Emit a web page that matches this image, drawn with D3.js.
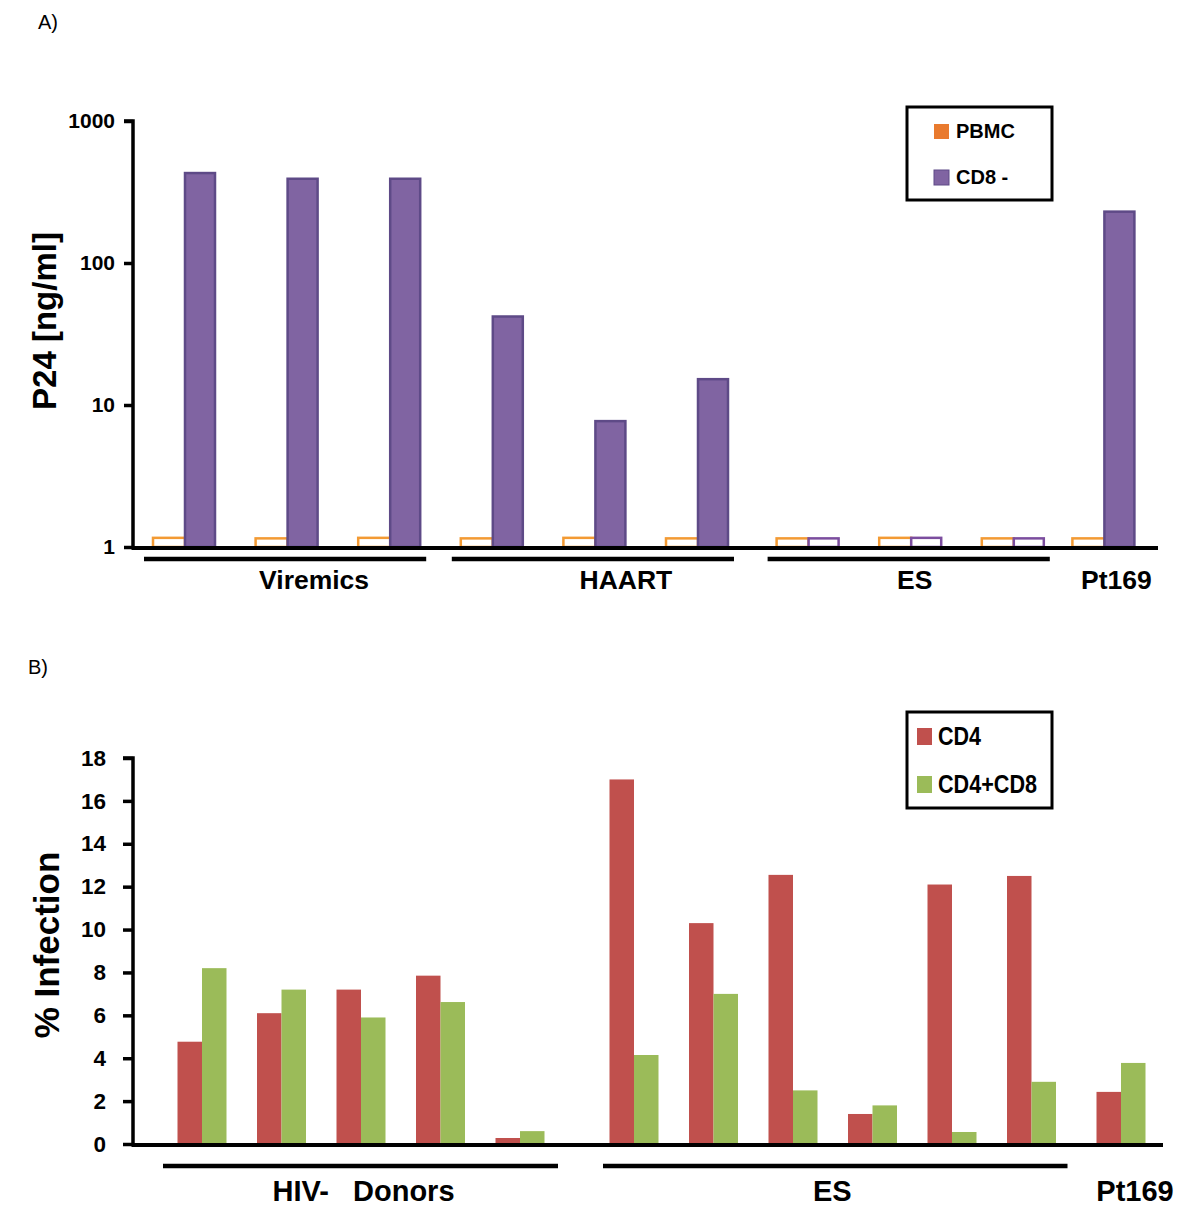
<!DOCTYPE html>
<html>
<head>
<meta charset="utf-8">
<script src="https://cdn.jsdelivr.net/npm/d3@7"></script>
<style>
  html, body { margin: 0; padding: 0; background: #fff; }
  svg { display: block; font-family: "Liberation Sans", Arial, sans-serif; }
</style>
</head>
<body>
<svg id="chart" width="1200" height="1225"></svg>
<script>
// ---------------- DATA ----------------
// Panel A: P24 [ng/ml] (log scale)
const aCategories = ["V1", "V2", "V3", "H1", "H2", "H3", "E1", "E2", "E3", "Pt169"];
const aGroups     = ["Viremics", "Viremics", "Viremics", "HAART", "HAART", "HAART", "ES", "ES", "ES", "Pt169"];
const aPBMC       = [1.16, 1.15, 1.16, 1.15, 1.16, 1.15, 1.15, 1.16, 1.15, 1.15];
const aCD8neg     = [430, 392, 392, 42, 7.7, 15.2, 1.15, 1.16, 1.15, 230];
const aGroupNames = ["Viremics", "HAART", "ES", "Pt169"];
const aTicks      = [1, 10, 100, 1000];
const aSeries     = ["PBMC", "CD8 -"];

// Panel B: % Infection
const bCategories = ["D1", "D2", "D3", "D4", "D5", "E1", "E2", "E3", "E4", "E5", "E6", "Pt169"];
const bGroups     = ["HIV-   Donors", "HIV-   Donors", "HIV-   Donors", "HIV-   Donors", "HIV-   Donors",
                     "ES", "ES", "ES", "ES", "ES", "ES", "Pt169"];
const bCD4        = [4.77, 6.1, 7.2, 7.85, 0.28, 17.0, 10.3, 12.55, 1.4, 12.1, 12.5, 2.43];
const bCD4CD8     = [8.2, 7.2, 5.9, 6.62, 0.6, 4.15, 7.0, 2.5, 1.8, 0.56, 2.9, 3.78];
const bGroupNames = ["HIV-   Donors", "ES", "Pt169"];
const bTicks      = [0, 2, 4, 6, 8, 10, 12, 14, 16, 18];
const bSeries     = ["CD4", "CD4+CD8"];

// ---------------- STYLE / LAYOUT ----------------
const C = {
  orangeStroke: "#F39A33", orangeFill: "#E97A2E",
  purple: "#8064A2", purpleStroke: "#5E4A87", purpleOutline: "#7B4D9E",
  red: "#C0504D", green: "#9BBB59"
};
const BOLD = "bold";
const svg = d3.select("#chart");

// ============ PANEL A ============
(function panelA() {
  const axisX = 133, yTop = 121, yBot = 547, xEnd = 1158;
  const groupOffset = {"Viremics": 0, "HAART": 0, "ES": 8, "Pt169": -4};
  const idx = d3.scaleLinear().domain([0, aCategories.length - 1]).range([185, 185 + 102.6 * 9]);
  const cx = i => idx(i) + groupOffset[aGroups[i]];
  const y = d3.scaleLog().domain([1, 1000]).range([yBot, yTop]);
  const bw = 32;

  svg.append("text").attr("x", 38).attr("y", 29).attr("font-size", 20).text("A)");

  const g = svg.append("g");
  const yAxis = d3.axisLeft(y).tickValues(aTicks).tickFormat(d3.format("d")).tickSize(9).tickPadding(9);
  const ya = g.append("g").attr("transform", `translate(${axisX},0)`).call(yAxis);
  ya.select(".domain").attr("stroke", "#000").attr("stroke-width", 3.5).attr("d", `M-9,${yTop}H0V${yBot}`);
  ya.selectAll(".tick line").attr("stroke", "#000").attr("stroke-width", 3.5);
  ya.selectAll(".tick text").attr("font-size", 21).attr("font-weight", BOLD).attr("fill", "#000")
    .attr("font-family", "Liberation Sans, Arial, sans-serif");

  g.selectAll("rect.pbmc").data(aPBMC).join("rect").attr("class", "pbmc")
    .attr("x", (d, i) => cx(i) - bw).attr("width", bw)
    .attr("y", d => y(d)).attr("height", d => y(1) - y(d))
    .attr("fill", "#fff").attr("stroke", C.orangeStroke).attr("stroke-width", 2.5);
  g.selectAll("rect.cd8").data(aCD8neg).join("rect").attr("class", "cd8")
    .attr("x", (d, i) => cx(i)).attr("width", bw - 2)
    .attr("y", d => y(d)).attr("height", d => y(1) - y(d))
    .attr("fill", (d, i) => aGroups[i] === "ES" ? "#fff" : C.purple)
    .attr("stroke", (d, i) => aGroups[i] === "ES" ? C.purpleOutline : C.purpleStroke)
    .attr("stroke-width", 2.5);

  g.append("line").attr("x1", axisX - 1.5).attr("x2", xEnd).attr("y1", yBot + 1).attr("y2", yBot + 1)
    .attr("stroke", "#000").attr("stroke-width", 4);

  const labelShift = {"Viremics": 29, "HAART": 33, "ES": 6, "Pt169": 12};
  aGroupNames.forEach(name => {
    const ids = aGroups.map((gname, i) => gname === name ? i : -1).filter(i => i >= 0);
    const x0 = cx(ids[0]) - 41, x1 = cx(ids[ids.length - 1]) + 36;
    if (ids.length > 1) {
      g.append("line").attr("x1", x0).attr("x2", x1).attr("y1", 559).attr("y2", 559)
        .attr("stroke", "#000").attr("stroke-width", 4.5);
    }
    const mid = ids.length > 1 ? (x0 + x1) / 2 : cx(ids[0]);
    g.append("text").attr("x", mid + labelShift[name]).attr("y", 589)
      .attr("text-anchor", "middle").attr("font-size", 26.5).attr("font-weight", BOLD).text(name);
  });

  g.append("text").attr("transform", `translate(56,321) rotate(-90)`)
    .attr("text-anchor", "middle").attr("font-size", 33).attr("font-weight", BOLD).text("P24 [ng/ml]");

  const lg = g.append("g");
  lg.append("rect").attr("x", 907).attr("y", 107).attr("width", 145).attr("height", 93)
    .attr("fill", "#fff").attr("stroke", "#000").attr("stroke-width", 3);
  const lcol = [C.orangeFill, C.purple];
  aSeries.forEach((s, k) => {
    const yy = 124 + k * 46;
    lg.append("rect").attr("x", 934).attr("y", yy).attr("width", 15).attr("height", 15)
      .attr("fill", lcol[k]).attr("stroke", k === 1 ? C.purpleStroke : "none").attr("stroke-width", 1);
    lg.append("text").attr("x", 956).attr("y", yy + 14).attr("font-size", 20).attr("font-weight", BOLD).text(s);
  });
})();

// ============ PANEL B ============
(function panelB() {
  const axisX = 133, yTop = 758, yBot = 1144, xEnd = 1163;
  const groupOffset = {"HIV-   Donors": 0, "ES": 34.5, "Pt169": 44.5};
  const idx = d3.scaleLinear().domain([0, bCategories.length - 1]).range([202, 202 + 79.5 * 11]);
  const cx = i => idx(i) + groupOffset[bGroups[i]];
  const y = d3.scaleLinear().domain([0, 18]).range([yBot, yTop]);
  const bw = 24.5;

  svg.append("text").attr("x", 28).attr("y", 674).attr("font-size", 20).text("B)");

  const g = svg.append("g");
  const yAxis = d3.axisLeft(y).tickValues(bTicks).tickFormat(d3.format("d")).tickSize(10).tickPadding(17);
  const ya = g.append("g").attr("transform", `translate(${axisX},0)`).call(yAxis);
  ya.select(".domain").attr("stroke", "#000").attr("stroke-width", 3.5).attr("d", `M-10,${yTop}H0V${yBot}`);
  ya.selectAll(".tick line").attr("stroke", "#000").attr("stroke-width", 3.5);
  ya.selectAll(".tick text").attr("font-size", 22.5).attr("font-weight", BOLD).attr("fill", "#000")
    .attr("font-family", "Liberation Sans, Arial, sans-serif");

  g.selectAll("rect.cd4").data(bCD4).join("rect").attr("class", "cd4")
    .attr("x", (d, i) => cx(i) - bw).attr("width", bw)
    .attr("y", d => y(d)).attr("height", d => y(0) - y(d)).attr("fill", C.red);
  g.selectAll("rect.cd48").data(bCD4CD8).join("rect").attr("class", "cd48")
    .attr("x", (d, i) => cx(i)).attr("width", bw)
    .attr("y", d => y(d)).attr("height", d => y(0) - y(d)).attr("fill", C.green);

  g.append("line").attr("x1", axisX - 1.5).attr("x2", xEnd).attr("y1", yBot + 1).attr("y2", yBot + 1)
    .attr("stroke", "#000").attr("stroke-width", 4);

  const ext = {"HIV-   Donors": [-39, 38], "ES": [-31, 36]};
  const labelShift = {"HIV-   Donors": 3, "ES": -3, "Pt169": 14};
  bGroupNames.forEach(name => {
    const ids = bGroups.map((gname, i) => gname === name ? i : -1).filter(i => i >= 0);
    let mid = cx(ids[0]);
    if (ids.length > 1) {
      const x0 = cx(ids[0]) + ext[name][0], x1 = cx(ids[ids.length - 1]) + ext[name][1];
      g.append("line").attr("x1", x0).attr("x2", x1).attr("y1", 1166).attr("y2", 1166)
        .attr("stroke", "#000").attr("stroke-width", 4.5);
      mid = (x0 + x1) / 2;
    }
    g.append("text").attr("x", mid + labelShift[name]).attr("y", 1201)
      .attr("text-anchor", "middle").attr("font-size", 29).attr("font-weight", BOLD)
      .attr("xml:space", "preserve").style("white-space", "pre").text(name);
  });

  g.append("text").attr("transform", `translate(59,945) rotate(-90)`)
    .attr("text-anchor", "middle").attr("font-size", 35).attr("font-weight", BOLD).text("% Infection");

  const lg = g.append("g");
  lg.append("rect").attr("x", 907).attr("y", 712).attr("width", 145).attr("height", 96)
    .attr("fill", "#fff").attr("stroke", "#000").attr("stroke-width", 3);
  const lcol = [C.red, C.green];
  const lw = [43, 99];
  bSeries.forEach((s, k) => {
    const yy = 728 + k * 48;
    lg.append("rect").attr("x", 917).attr("y", yy).attr("width", 15).attr("height", 17).attr("fill", lcol[k]);
    lg.append("text").attr("x", 938).attr("y", yy + 17).attr("font-size", 25).attr("font-weight", BOLD)
      .attr("textLength", lw[k]).attr("lengthAdjust", "spacingAndGlyphs").text(s);
  });
})();
</script>
</body>
</html>
